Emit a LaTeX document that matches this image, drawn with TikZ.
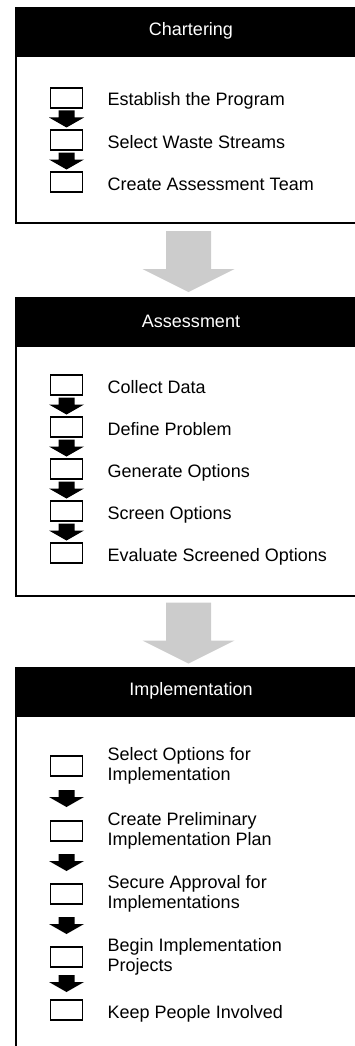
\documentclass[tikz,border=0pt]{standalone}
\usepackage{fontspec}
\setmainfont{Liberation Sans}
\usetikzlibrary{calc}
\newcommand\bigarrowbetween[2]{%
  \begin{scope}[shift={($(#1.south)!0.5!(#2.north)+(-2.5,0)$)}]
    \fill[bigarrow] (-22.5,-29.5) -- (22.5,-29.5) -- (22.5,8.5) -- (46,8.5) -- (0,31.5) -- (-46,8.5) -- (-22.5,8.5) -- cycle;
  \end{scope}}
\newcommand\smallarrowbetween[2]{%
  \begin{scope}[shift={($(#1.south)!0.5!(#2.north)$)}]
    \fill[smallarrow] (-8,-8.5) -- (8,-8.5) -- (8,-1.5) -- (17.5,-1.5) -- (0,8.5) -- (-17.5,-1.5) -- (-8,-1.5) -- cycle;
  \end{scope}}
\begin{document}
\begin{tikzpicture}[x=1pt,y=-1pt,
  hdr/.style={fill=black, text=white, minimum width=352pt, minimum height=48pt, inner sep=0pt, font=\fontsize{18}{21}\selectfont},
  frame/.style={draw=black, line width=2pt, minimum width=350pt, inner sep=0pt, anchor=north},
  stepbox/.style={draw=black, line width=1.2pt, minimum width=32pt, minimum height=20pt, inner sep=0pt, fill=white},
  lbl/.style={inner sep=0pt, align=left, font=\fontsize{18}{20}\selectfont},
  bigarrow/.style={fill=black!20},
  smallarrow/.style={fill=black}
]
\useasboundingbox (0,0) rectangle (355,1046);
\clip (0,0) rectangle (355,1046);

% ---------- Chartering ----------
\node[hdr] (h1) at (191,31) {Chartering};
\node[frame, minimum height=167pt] (f1) at (h1.south) {};
\node[hdr] at (191,31) {Chartering};

\node[stepbox] (c1) at (66.5,98) {};
\node[stepbox] (c2) at (66.5,140) {};
\node[stepbox] (c3) at (66.5,182) {};
\node[lbl, anchor=base west] (tc1) at ($(c1.center)+(41,8)$) {Establish the Program};
\node[lbl, anchor=base west] (tc2) at ($(c2.center)+(41,8)$) {Select Waste Streams};
\node[lbl, anchor=base west] (tc3) at ($(c3.center)+(41,8)$) {Create Assessment Team};
\smallarrowbetween{c1}{c2}
\smallarrowbetween{c2}{c3}

% ---------- Assessment ----------
\node[hdr] (h2) at (191,321) {Assessment};
\node[frame, minimum height=250pt] (f2) at (h2.south) {};
\node[hdr] at (191,321) {Assessment};

\node[stepbox] (a1) at (66.5,385) {};
\node[stepbox] (a2) at (66.5,427) {};
\node[stepbox] (a3) at (66.5,469) {};
\node[stepbox] (a4) at (66.5,511) {};
\node[stepbox] (a5) at (66.5,553) {};
\node[lbl, anchor=base west] (ta1) at ($(a1.center)+(41,8)$) {Collect Data};
\node[lbl, anchor=base west] (ta2) at ($(a2.center)+(41,8)$) {Define Problem};
\node[lbl, anchor=base west] (ta3) at ($(a3.center)+(41,8)$) {Generate Options};
\node[lbl, anchor=base west] (ta4) at ($(a4.center)+(41,8)$) {Screen Options};
\node[lbl, anchor=base west] (ta5) at ($(a5.center)+(41,8)$) {Evaluate Screened Options};
\smallarrowbetween{a1}{a2}
\smallarrowbetween{a2}{a3}
\smallarrowbetween{a3}{a4}
\smallarrowbetween{a4}{a5}

% ---------- Implementation ----------
\node[hdr] (h3) at (191,691) {Implementation};
\node[frame, minimum height=360pt] (f3) at (h3.south) {};
\node[hdr] at (191,691) {Implementation};

\node[stepbox] (i1) at (66.5,766) {};
\node[stepbox] (i2) at (66.5,831) {};
\node[stepbox] (i3) at (66.5,894) {};
\node[stepbox] (i4) at (66.5,957) {};
\node[stepbox] (i5) at (66.5,1010) {};
\node[lbl, anchor=west] (ti1) at ($(i1.center)+(41,0)$) {Select Options for\\Implementation};
\node[lbl, anchor=west] (ti2) at ($(i2.center)+(41,0)$) {Create Preliminary\\Implementation Plan};
\node[lbl, anchor=west] (ti3) at ($(i3.center)+(41,0)$) {Secure Approval for\\Implementations};
\node[lbl, anchor=west] (ti4) at ($(i4.center)+(41,0)$) {Begin Implementation\\Projects};
\node[lbl, anchor=base west] (ti5) at ($(i5.center)+(41,8)$) {Keep People Involved};
\smallarrowbetween{i1}{i2}
\smallarrowbetween{i2}{i3}
\smallarrowbetween{i3}{i4}
\smallarrowbetween{i4}{i5}

% ---------- Big grey arrows ----------
\bigarrowbetween{f1}{h2}
\bigarrowbetween{f2}{h3}
\end{tikzpicture}
\end{document}
